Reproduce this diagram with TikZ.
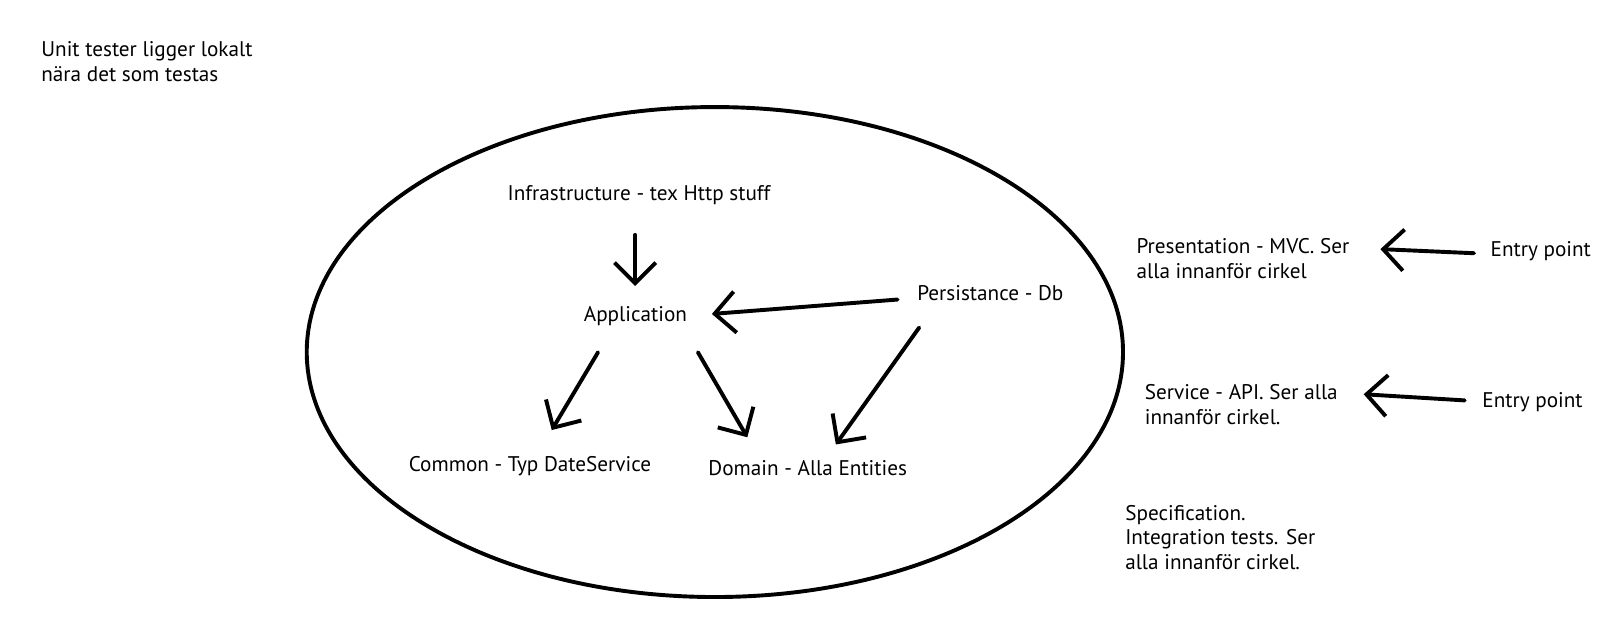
\documentclass[tikz,border=0pt]{standalone}
\usepackage{fontspec}
\setmainfont{PT Sans}
\usetikzlibrary{calc,arrows.meta}
\tikzset{
    txt/.style={inner sep=0pt, anchor=west, align=left, font=\fontsize{20.6}{24}\selectfont},
    lbl/.style={txt, text height=14pt, text depth=4pt},
    pil/.style={line width=3.8pt, line cap=round, line join=round, -{Straight Barb[length=20pt, width=40pt]}},
  }
\begin{document}
\begin{tikzpicture}[x=1pt, y=-1pt]
	\useasboundingbox (0,0) rectangle (1568,606);
	%CIRKEL
	\draw[line width=3.8pt] (694.5,342) ellipse [x radius=396.5pt, y radius=238pt];

	%lager inne i cirkeln
	\node[lbl] (infra) at (493,190) {Infrastructure - tex Http stuff};
	\node[lbl] (app) at (567,307) {Application};
	\node[lbl] (pers) at (891,287) {Persistance - Db};
	\node[lbl] (common) at (397,453) {Common - Typ DateService};
	\node[lbl] (domain) at (688,457) {Domain - Alla Entities};

	%utanfor
	\node[txt] (unit) at (40,60) {Unit tester ligger lokalt\\nära det som testas};
	\node[txt] (pres) at (1104,251) {Presentation - MVC. Ser\\alla innanför cirkel};
	\node[lbl] (entry1) at (1448,244) {Entry point};
	\node[txt] (serv) at (1112,393) {Service - API. Ser alla\\innanför cirkel.};
	\node[lbl] (entry2) at (1440,391) {Entry point};
	\node[txt] (spec) at (1093,522) {Specification.\\Integration tests. Ser\\alla innanför cirkel.};

	%pilar
	\draw[pil] ($(infra.south west)+(124,29)$) -- ($(app.north west)+(50,-20)$);
	\draw[pil] ($(pers.west)+(-19,4)$) -- ($(app.east)+(24,-2)$);
	\draw[pil] ($(app.south west)+(14,26)$) -- ($(common.north west)+(139,-26)$);
	\draw[pil] ($(app.south west)+(111,26)$) -- ($(domain.north west)+(38,-23)$);
	\draw[pil] ($(pers.south west)+(2,22)$) -- ($(domain.north west)+(124,-16)$);
	\draw[pil] ($(entry1.west)+(-16,2)$) -- ($(pres.east)+(30,-9)$);
	\draw[pil] ($(entry2.west)+(-17,-2)$) -- ($(serv.east)+(25,-10)$);
\end{tikzpicture}
\end{document}
